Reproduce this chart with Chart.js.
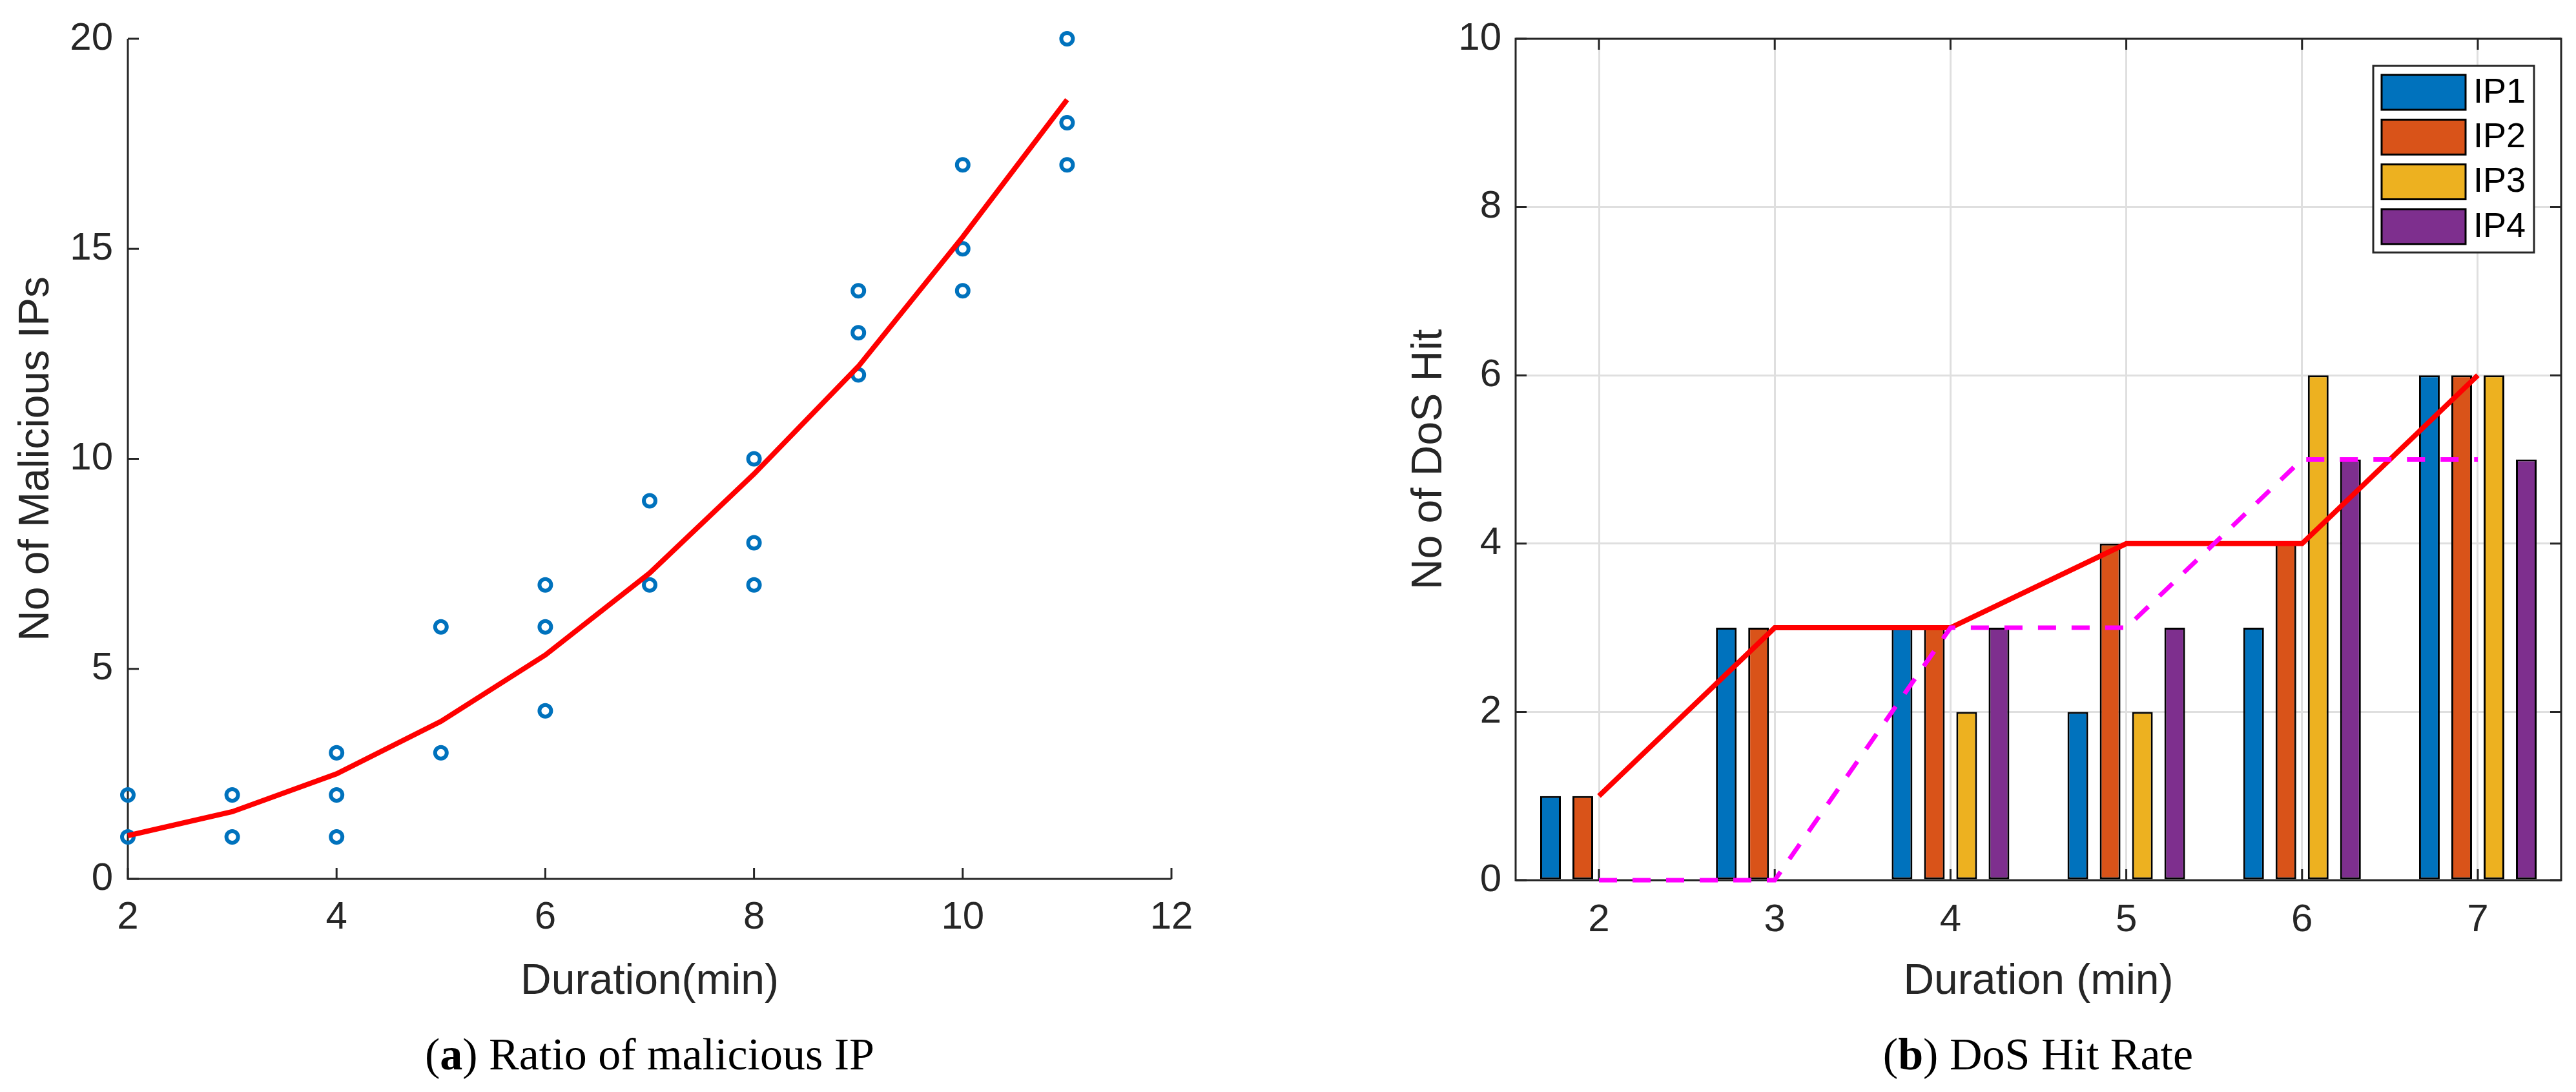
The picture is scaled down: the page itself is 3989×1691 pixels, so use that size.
<!DOCTYPE html>
<html><head><meta charset="utf-8">
<script src="https://cdn.jsdelivr.net/npm/chart.js@4.4.1/dist/chart.umd.min.js"></script>
<style>
html,body{margin:0;padding:0;background:#fff;}
body{width:3989px;height:1691px;position:relative;overflow:hidden;}
.wrap{position:absolute;top:0;}
.cap{position:absolute;font-family:'Liberation Serif','Times New Roman',serif;font-size:70px;line-height:80px;color:#000;text-align:center;white-space:nowrap;}
</style></head><body>
<div class="wrap" style="left:0;width:2000px;height:1691px"><canvas id="c1" width="2000" height="1691"></canvas></div>
<div class="wrap" style="left:2000px;width:1989px;height:1691px"><canvas id="c2" width="1989" height="1691"></canvas></div>
<div class="cap" style="left:506px;width:1000px;top:1593px">(<b>a</b>) Ratio of malicious IP</div>
<div class="cap" style="left:2656px;width:1000px;top:1593px">(<b>b</b>) DoS Hit Rate</div>
<script>
// ---- Data: left panel (a) ----
const scatterX = [2,2,3,3,4,4,4,5,5,6,6,6,7,7,8,8,8,9,9,9,10,10,10,11,11,11];
const scatterY = [2,1,2,1,3,2,1,6,3,7,6,4,9,7,10,8,7,14,13,12,17,15,14,20,18,17];
const fitX = [2,3,4,5,6,7,8,9,10,11];
const fitY = [1.03,1.6,2.5,3.75,5.33,7.28,9.64,12.2,15.28,18.55];
const leftXTicks = [2,4,6,8,10,12];
const leftYTicks = [0,5,10,15,20];

// ---- Data: right panel (b) ----
const durations = [2,3,4,5,6,7];
const ip1 = [1,3,3,2,3,6];
const ip2 = [1,3,3,4,4,6];
const ip3 = [0,0,2,2,6,6];
const ip4 = [0,0,3,3,5,5];
const redLine = [1,3,3,4,4,6];
const magentaLine = [0,0,3,3,5,5];
const rightYTicks = [0,2,4,6,8,10];
const ipLabels = ['IP1','IP2','IP3','IP4'];
const ipColors = ['#0072BD','#D95319','#EDB120','#7E2F8E'];

Chart.defaults.font.family = "'Liberation Sans', Arial, sans-serif";
Chart.defaults.color = '#262626';

const TXT = '#262626';
const tickFont = {size: 60};
const titleFont = {size: 66};

const frameTicks = {
  id: 'frameTicks',
  beforeDatasetsDraw(chart, args, o) {
    const {ctx, chartArea: a} = chart;
    const xs = chart.scales.x, ys = chart.scales.y;
    ctx.save();
    ctx.strokeStyle = o.color; ctx.lineWidth = o.width; ctx.lineCap = 'butt'; ctx.lineJoin = 'miter';
    ctx.beginPath();
    xs.ticks.forEach(t => {
      const p = xs.getPixelForValue(t.value);
      ctx.moveTo(p, a.bottom); ctx.lineTo(p, a.bottom - o.len);
      if (o.box) { ctx.moveTo(p, a.top); ctx.lineTo(p, a.top + o.len); }
    });
    ys.ticks.forEach(t => {
      const p = ys.getPixelForValue(t.value);
      ctx.moveTo(a.left, p); ctx.lineTo(a.left + o.len, p);
      if (o.box) { ctx.moveTo(a.right, p); ctx.lineTo(a.right - o.len, p); }
    });
    ctx.stroke();
    ctx.beginPath();
    if (o.box) ctx.rect(a.left, a.top, a.right - a.left, a.bottom - a.top);
    else { ctx.moveTo(a.left, a.top); ctx.lineTo(a.left, a.bottom); ctx.lineTo(a.right, a.bottom); }
    ctx.stroke();
    ctx.restore();
  }
};

const boxLegend = {
  id: 'boxLegend',
  afterDraw(chart, args, o) {
    if (!o.show) return;
    const {ctx, chartArea: a} = chart;
    const items = chart.data.datasets.filter(d => d.type === 'bar');
    const x0 = a.right - o.inset - o.w, y0 = a.top + o.inset;
    ctx.save();
    ctx.fillStyle = '#fff';
    ctx.fillRect(x0, y0, o.w, o.h);
    ctx.strokeStyle = '#262626'; ctx.lineWidth = 3;
    ctx.strokeRect(x0, y0, o.w, o.h);
    ctx.font = o.font + "px 'Liberation Sans', Arial, sans-serif";
    ctx.textBaseline = 'middle'; ctx.textAlign = 'left';
    items.forEach((d, i) => {
      const sy = y0 + o.padTop + i * o.step;
      ctx.fillStyle = d.backgroundColor;
      ctx.fillRect(x0 + o.padLeft, sy, o.sw, o.sh);
      ctx.strokeStyle = '#000'; ctx.lineWidth = 3;
      ctx.strokeRect(x0 + o.padLeft, sy, o.sw, o.sh);
      ctx.fillStyle = '#000';
      ctx.fillText(d.label, x0 + o.padLeft + o.sw + o.gap, sy + o.sh / 2 + 1);
    });
    ctx.restore();
  }
};

// ---------- Left chart ----------
new Chart(document.getElementById('c1'), {
  type: 'scatter',
  data: {
    datasets: [
      { type: 'line', label: 'fit', data: fitX.map((x, i) => ({x, y: fitY[i]})),
        borderColor: '#FF0000', borderWidth: 8, pointRadius: 0, fill: false, tension: 0, order: 0, clip: false },
      { type: 'scatter', label: 'data', data: scatterX.map((x, i) => ({x, y: scatterY[i]})),
        pointStyle: 'circle', pointRadius: 9, pointBorderWidth: 6, pointBorderColor: '#0072BD',
        pointBackgroundColor: 'rgba(255,255,255,0)', borderColor: '#0072BD', showLine: false, order: 1, clip: false }
    ]
  },
  options: {
    responsive: false, animation: false, devicePixelRatio: 1, events: [],
    layout: {padding: {left: 0, right: 186, top: 60, bottom: 91}},
    plugins: { legend: {display: false}, tooltip: {enabled: false},
      frameTicks: {color: TXT, width: 3, len: 17, box: false}, boxLegend: {show: false} },
    scales: {
      x: { type: 'linear', min: 2, max: 12,
        afterBuildTicks: s => { s.ticks = leftXTicks.map(v => ({value: v})); },
        afterFit: s => { s.height = 239; },
        grid: {display: false, drawTicks: false}, border: {display: false},
        ticks: {padding: 24, font: tickFont, color: TXT, maxRotation: 0, autoSkip: false},
        title: {display: true, text: 'Duration(min)', font: titleFont, color: TXT, padding: {top: 0, bottom: 40}} },
      y: { type: 'linear', min: 0, max: 20,
        afterBuildTicks: s => { s.ticks = leftYTicks.map(v => ({value: v})); },
        afterFit: s => { s.width = 198; },
        grid: {display: false, drawTicks: false}, border: {display: false},
        ticks: {padding: 23, font: tickFont, color: TXT, autoSkip: false},
        title: {display: true, text: 'No of Malicious IPs', font: titleFont, color: TXT, padding: {top: 17, bottom: 0}} }
    }
  },
  plugins: [frameTicks, boxLegend]
});

// ---------- Right chart ----------
const ipSeries = [ip1, ip2, ip3, ip4];
new Chart(document.getElementById('c2'), {
  type: 'bar',
  data: {
    datasets: [
      { type: 'line', label: '', data: durations.map((x, i) => ({x, y: magentaLine[i]})),
        borderColor: '#FF00FF', borderWidth: 7, borderDash: [28, 24], pointRadius: 0, fill: false, tension: 0, order: 0, clip: false },
      { type: 'line', label: '', data: durations.map((x, i) => ({x, y: redLine[i]})),
        borderColor: '#FF0000', borderWidth: 8, pointRadius: 0, fill: false, tension: 0, order: 1, clip: false },
      ...ipSeries.map((s, k) => ({
        type: 'bar', label: ipLabels[k], data: durations.map((x, i) => ({x, y: s[i]})),
        backgroundColor: ipColors[k], borderColor: '#000', borderWidth: 3, borderSkipped: false,
        barPercentage: 0.64, categoryPercentage: 0.735, order: 2
      }))
    ]
  },
  options: {
    responsive: false, animation: false, devicePixelRatio: 1, events: [],
    layout: {padding: {left: 0, right: 23, top: 60, bottom: 91}},
    plugins: { legend: {display: false}, tooltip: {enabled: false},
      frameTicks: {color: TXT, width: 3, len: 17, box: true},
      boxLegend: {show: true, inset: 42, w: 249, h: 289, padLeft: 13, padTop: 14, sw: 130, sh: 54, step: 69.3, gap: 12, font: 54} },
    scales: {
      x: { type: 'linear', min: 1.526, max: 7.474, offset: false,
        afterBuildTicks: s => { s.ticks = durations.map(v => ({value: v})); },
        afterFit: s => { s.height = 237; },
        grid: {display: true, offset: false, color: '#DFDFDF', lineWidth: 3, drawTicks: false}, border: {display: false},
        ticks: {padding: 26, font: tickFont, color: TXT, maxRotation: 0, autoSkip: false},
        title: {display: true, text: 'Duration (min)', font: titleFont, color: TXT, padding: {top: 0, bottom: 40}} },
      y: { type: 'linear', min: 0, max: 10,
        afterBuildTicks: s => { s.ticks = rightYTicks.map(v => ({value: v})); },
        afterFit: s => { s.width = 347; },
        grid: {display: true, color: '#DFDFDF', lineWidth: 3, drawTicks: false}, border: {display: false},
        ticks: {padding: 22, font: tickFont, color: TXT, autoSkip: false},
        title: {display: true, text: 'No of DoS Hit', font: titleFont, color: TXT, padding: {top: 174, bottom: 0}} }
    }
  },
  plugins: [frameTicks, boxLegend]
});
</script>
</body></html>
